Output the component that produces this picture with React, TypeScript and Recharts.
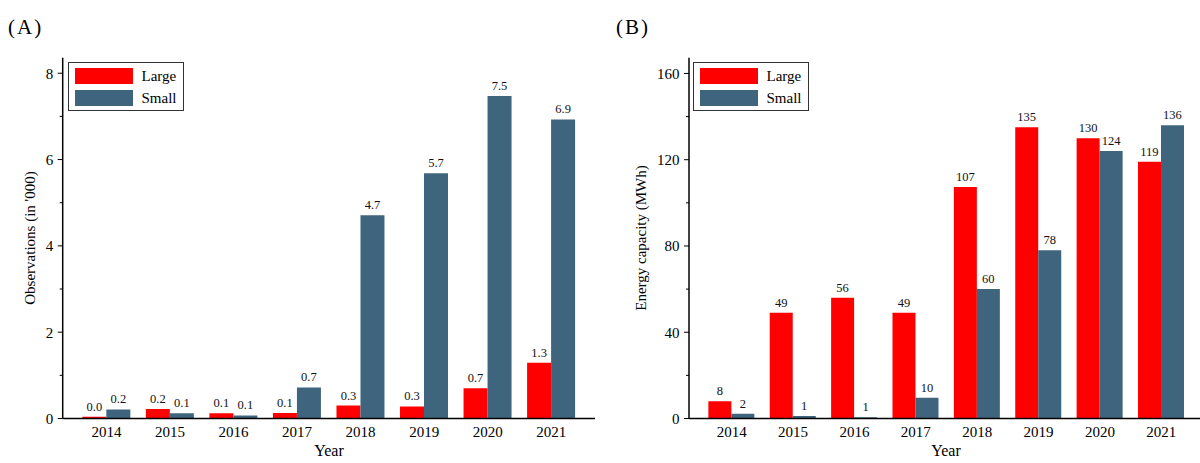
import React from 'react';
import { BarChart, Bar, XAxis, YAxis, LabelList, Legend } from 'recharts';

const FONT = '"Liberation Serif", "Times New Roman", serif';
const RED = '#FF0000';
const BLUE = '#3F647E';

// Installation years
const years = ['2014', '2015', '2016', '2017', '2018', '2019', '2020', '2021'];

// Panel A: observations (in thousands)
const obsLarge = [0.04, 0.22, 0.12, 0.13, 0.3, 0.28, 0.7, 1.29];
const obsSmall = [0.21, 0.12, 0.07, 0.72, 4.71, 5.68, 7.47, 6.93];

// Panel B: energy capacity (MWh)
const capLarge = [8, 49, 56, 49, 107.4, 135, 130, 119];
const capSmall = [2.2, 1.2, 0.6, 9.6, 60, 78, 124, 136];

// Axis ticks (every tick drawn, labels only on the major ones)
const obsTicks = [0, 1, 2, 3, 4, 5, 6, 7, 8];
const obsMajor = [0, 2, 4, 6, 8];
const capTicks = [0, 20, 40, 60, 80, 100, 120, 140, 160];
const capMajor = [0, 40, 80, 120, 160];

const obsData = years.map((y, i) => ({ year: y, large: obsLarge[i], small: obsSmall[i] }));
const capData = years.map((y, i) => ({ year: y, large: capLarge[i], small: capSmall[i] }));

const makeYTick = (major: number[]) => (props: any) => {
  const { x, y, payload } = props;
  const isMajor = major.includes(payload.value);
  return (
    <g>
      <line x1={x - (isMajor ? 5 : 3)} x2={x} y1={y} y2={y} stroke="#000" strokeWidth={1} />
      {isMajor && (
        <text x={x - 9.5} y={y} dy="0.36em" textAnchor="end" fontSize={15} fontFamily={FONT} fill="#000">
          {payload.value}
        </text>
      )}
    </g>
  );
};

// Value label drawn centred above each bar
const makeValueLabel = (fmt: (v: number) => string) => (props: any) => {
  const { x, y, width, value } = props;
  return (
    <text x={Number(x) + Number(width) / 2} y={Number(y) - 6} textAnchor="middle" fontSize={12.5} fontFamily={FONT} fill="#111">
      {fmt(Number(value))}
    </text>
  );
};

const LegendBox = () => (
  <div
    style={{
      width: 114,
      height: 47,
      border: '1.5px solid #333',
      background: '#fff',
      fontFamily: FONT,
      fontSize: 15,
      color: '#000',
      position: 'relative',
    }}
  >
    {[
      { name: 'Large', color: RED, top: 5 },
      { name: 'Small', color: BLUE, top: 26.5 },
    ].map((it) => (
      <div key={it.name} style={{ position: 'absolute', left: 5.5, top: it.top, height: 16, display: 'flex', alignItems: 'center' }}>
        <div style={{ width: 58, height: 16, background: it.color }} />
        <span style={{ marginLeft: 9, lineHeight: '16px' }}>{it.name}</span>
      </div>
    ))}
  </div>
);

type PanelProps = {
  data: any[];
  width: number;
  margin: { top: number; right: number; left: number; bottom: number };
  max: number;
  ticks: number[];
  major: number[];
  fmt: (v: number) => string;
  legendLeft: number;
};

const Panel = ({ data, width, margin, max, ticks, major, fmt, legendLeft }: PanelProps) => {
  const label = makeValueLabel(fmt);
  return (
    <BarChart width={width} height={463} data={data} margin={margin} barGap={0} barCategoryGap="12%">
      <XAxis
        dataKey="year"
        tickLine={false}
        tickSize={0}
        tickMargin={7.5}
        padding={{ left: 12, right: 12 }}
        axisLine={{ stroke: '#000', strokeWidth: 1.5 }}
        tick={{ fontSize: 15, fontFamily: FONT, fill: '#000' }}
        height={30}
        interval={0}
      />
      <XAxis xAxisId="frameTop" orientation="top" height={0} tick={false} tickLine={false} axisLine={{ stroke: '#333', strokeWidth: 1 }} />
      <YAxis
        domain={[0, max]}
        ticks={ticks}
        interval={0}
        tickLine={false}
        tickSize={0}
        tickMargin={0}
        width={50}
        allowDataOverflow
        axisLine={{ stroke: '#000', strokeWidth: 1.5 }}
        tick={makeYTick(major)}
      />
      <YAxis yAxisId="frameRight" orientation="right" width={0} tick={false} tickLine={false} axisLine={{ stroke: '#333', strokeWidth: 1 }} />
      <Legend
        layout="horizontal"
        verticalAlign="middle"
        align="center"
        content={() => <LegendBox />}
        wrapperStyle={{ position: 'absolute', left: legendLeft, top: 62, width: 'auto' }}
      />
      <Bar dataKey="large" name="Large" fill={RED} isAnimationActive={false}>
        <LabelList dataKey="large" content={label} />
      </Bar>
      <Bar dataKey="small" name="Small" fill={BLUE} isAnimationActive={false}>
        <LabelList dataKey="small" content={label} />
      </Bar>
    </BarChart>
  );
};

export default function App() {
  return (
    <div style={{ position: 'absolute', left: 0, top: 0, width: 1200, height: 463, overflow: 'hidden', background: '#fff' }}>
      <div style={{ position: 'absolute', left: 0, top: 0 }}>
        <Panel
          data={obsData}
          width={600}
          margin={{ top: 57.7, right: 5, left: 12.7, bottom: 14.5 }}
          max={8.36}
          ticks={obsTicks}
          major={obsMajor}
          fmt={(v) => v.toFixed(1)}
          legendLeft={68}
        />
      </div>
      <div style={{ position: 'absolute', left: 600, top: 0 }}>
        <Panel
          data={capData}
          width={620}
          margin={{ top: 57.7, right: 16, left: 39, bottom: 14.5 }}
          max={167.3}
          ticks={capTicks}
          major={capMajor}
          fmt={(v) => String(Math.round(v))}
          legendLeft={93}
        />
      </div>
      <svg width={1200} height={463} style={{ position: 'absolute', left: 0, top: 0, pointerEvents: 'none' }}>
        <g fontFamily={FONT} fill="#000">
          <text x={8} y={34} fontSize={21} letterSpacing={2}>(A)</text>
          <text x={616} y={34} fontSize={21} letterSpacing={2}>(B)</text>
          <text x={329} y={456} fontSize={16} textAnchor="middle">Year</text>
          <text x={946} y={456} fontSize={16} textAnchor="middle">Year</text>
          <text transform="translate(34.5,238) rotate(-90)" fontSize={15} textAnchor="middle">Observations (in '000)</text>
          <text transform="translate(646,238) rotate(-90)" fontSize={15} textAnchor="middle">Energy capacity (MWh)</text>
        </g>
      </svg>
    </div>
  );
}
